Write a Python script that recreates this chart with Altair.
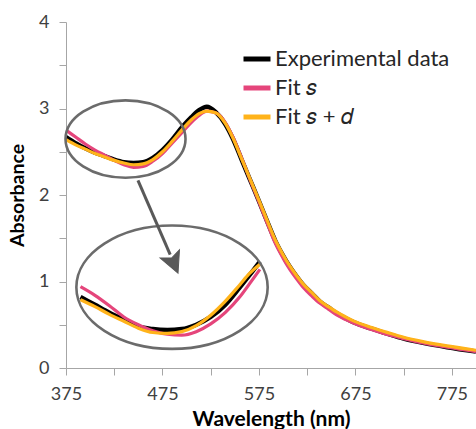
import altair as alt
import pandas as pd

# ---- main spectra ----
wavelength = [375, 385, 395, 405, 415, 425, 435, 445, 455, 465, 475, 485, 495, 505,
              513, 521, 530, 540, 548, 557, 566, 575, 583, 592, 600, 607, 614, 621,
              630, 638, 647, 656, 665, 673, 690, 707, 725, 745, 770, 800]
experimental = [2.67, 2.60, 2.54, 2.49, 2.45, 2.41, 2.38, 2.37, 2.38, 2.43, 2.52, 2.64, 2.78, 2.90,
                2.98, 3.02, 2.96, 2.82, 2.65, 2.41, 2.17, 1.93, 1.71, 1.47, 1.30, 1.17, 1.06, 0.96,
                0.86, 0.77, 0.70, 0.63, 0.575, 0.53, 0.46, 0.40, 0.34, 0.29, 0.24, 0.19]
fit_s = [2.75, 2.67, 2.59, 2.52, 2.46, 2.40, 2.35, 2.32, 2.33, 2.39, 2.48, 2.60, 2.72, 2.84,
         2.92, 2.97, 2.95, 2.84, 2.67, 2.43, 2.17, 1.92, 1.69, 1.44, 1.27, 1.14, 1.03, 0.93,
         0.83, 0.75, 0.68, 0.61, 0.56, 0.52, 0.45, 0.39, 0.34, 0.29, 0.24, 0.19]
fit_sd = [2.64, 2.58, 2.53, 2.48, 2.44, 2.40, 2.37, 2.35, 2.36, 2.41, 2.50, 2.62, 2.75, 2.87,
          2.94, 2.97, 2.95, 2.83, 2.66, 2.42, 2.18, 1.94, 1.72, 1.48, 1.31, 1.18, 1.07, 0.97,
          0.87, 0.78, 0.71, 0.645, 0.59, 0.545, 0.475, 0.415, 0.355, 0.305, 0.255, 0.205]

# ---- magnified inset (positions read in the chart's own units) ----
inset_wavelength = [390, 405, 420, 435, 450, 465, 480, 495, 510, 525, 540, 555, 565, 576]
inset_experimental = [0.82, 0.73, 0.64, 0.56, 0.48, 0.45, 0.44, 0.45, 0.50, 0.59, 0.73, 0.93, 1.07, 1.23]
inset_fit_s = [0.94, 0.84, 0.72, 0.59, 0.50, 0.43, 0.39, 0.38, 0.42, 0.51, 0.64, 0.82, 0.97, 1.14]
inset_fit_sd = [0.79, 0.71, 0.62, 0.54, 0.46, 0.41, 0.40, 0.42, 0.49, 0.61, 0.77, 0.96, 1.09, 1.20]

series_names = ["Experimental data", "Fit 𝑠", "Fit 𝑠 + 𝑑"]
series_colors = ["#000000", "#E5457B", "#FFB31A"]
series_widths = [4.5, 3.2, 3.2]

x_ticks = list(range(375, 801, 25))
y_ticks = [0, 0.5, 1, 1.5, 2, 2.5, 3, 3.5, 4]

# annotation anchors (chart units)
small_ellipse = {"wl": [436.7], "a": [2.647]}
big_ellipse = {"wl": [484.9], "a": [0.934]}
arrow_line = {"wl": [449.6], "a": [2.17], "wl2": [483.0], "a2": [1.31]}
arrow_head = {"wl": [491.1], "a": [1.096]}

FONT = "Lato"
GREY = "#a6a6a6"

xscale = alt.Scale(domain=[375, 800], nice=False, zero=False)
yscale = alt.Scale(domain=[0, 4], nice=False)
cscale = alt.Scale(domain=series_names, range=series_colors)

x_axis = alt.Axis(values=x_ticks, title="Wavelength (nm)",
                  labelExpr="(datum.value - 375) % 100 == 0 ? datum.label : ''",
                  grid=False, domainColor=GREY, tickColor=GREY, tickSize=7,
                  labelFont=FONT, labelFontSize=18, labelColor="#404040", labelPadding=10,
                  titleFont=FONT, titleFontSize=21, titleFontWeight="bold", titleColor="#000000",
                  titlePadding=5, labelFlush=False)
y_axis = alt.Axis(values=y_ticks, title="Absorbance",
                  labelExpr="datum.value % 1 == 0 ? format(datum.value, 'd') : ''",
                  grid=False, domainColor=GREY, tickColor=GREY, tickSize=7,
                  labelFont=FONT, labelFontSize=18, labelColor="#404040", labelPadding=10,
                  titleFont=FONT, titleFontSize=19.5, titleFontWeight="bold", titleColor="#000000",
                  titlePadding=11)

legend = alt.Legend(title=None, orient="none", legendX=175, legendY=21,
                    symbolType="stroke", symbolStrokeWidth=5, symbolSize=729,
                    labelFont=FONT, labelFontSize=22, labelColor="#262626", labelLimit=400,
                    rowPadding=2, labelOffset=2, padding=0)

layers = []
for name, vals, w in zip(series_names, [experimental, fit_s, fit_sd], series_widths):
    df = pd.DataFrame({"wl": wavelength, "a": vals, "series": name})
    layers.append(alt.Chart(df).mark_line(strokeWidth=w, interpolate="monotone", clip=True).encode(
        x=alt.X("wl:Q", scale=xscale, axis=x_axis),
        y=alt.Y("a:Q", scale=yscale, axis=y_axis),
        color=alt.Color("series:N", scale=cscale, legend=legend),
    ))
for name, iv, w in zip(series_names, [inset_experimental, inset_fit_s, inset_fit_sd], series_widths):
    df = pd.DataFrame({"wl": inset_wavelength, "a": iv, "series": name})
    layers.append(alt.Chart(df).mark_line(strokeWidth=w, interpolate="monotone").encode(
        x=alt.X("wl:Q", scale=xscale),
        y=alt.Y("a:Q", scale=yscale),
        color=alt.Color("series:N", scale=cscale, legend=legend),
    ))

ellipse_path = "M-1,0A1,0.645 0 1,1 1,0A1,0.645 0 1,1 -1,0Z"
for d, size in [(small_ellipse, 14400), (big_ellipse, 36600)]:
    layers.append(alt.Chart(pd.DataFrame(d)).mark_point(
        shape=ellipse_path, size=size, filled=False, stroke="#6b6b6b", strokeWidth=2.6, opacity=1
    ).encode(x="wl:Q", y="a:Q"))

layers.append(alt.Chart(pd.DataFrame(arrow_line)).mark_rule(
    color="#595959", strokeWidth=3).encode(x="wl:Q", y="a:Q", x2="wl2:Q", y2="a2:Q"))
layers.append(alt.Chart(pd.DataFrame(arrow_head)).mark_point(
    shape="M0,0L-0.5,-1L0,-0.78L0.5,-1Z", size=1764, filled=True, fill="#595959",
    stroke="#595959", strokeWidth=1, opacity=1, angle=337).encode(x="wl:Q", y="a:Q"))

chart = alt.layer(*layers).properties(
    width=410, height=346,
    padding={"left": 66, "top": 22, "right": 0, "bottom": 61},
    autosize=alt.AutoSizeParams(type="none"),
    background="white",
).configure_view(stroke=None)

chart.save("out.html", embed_options={"renderer": "svg", "actions": False})
